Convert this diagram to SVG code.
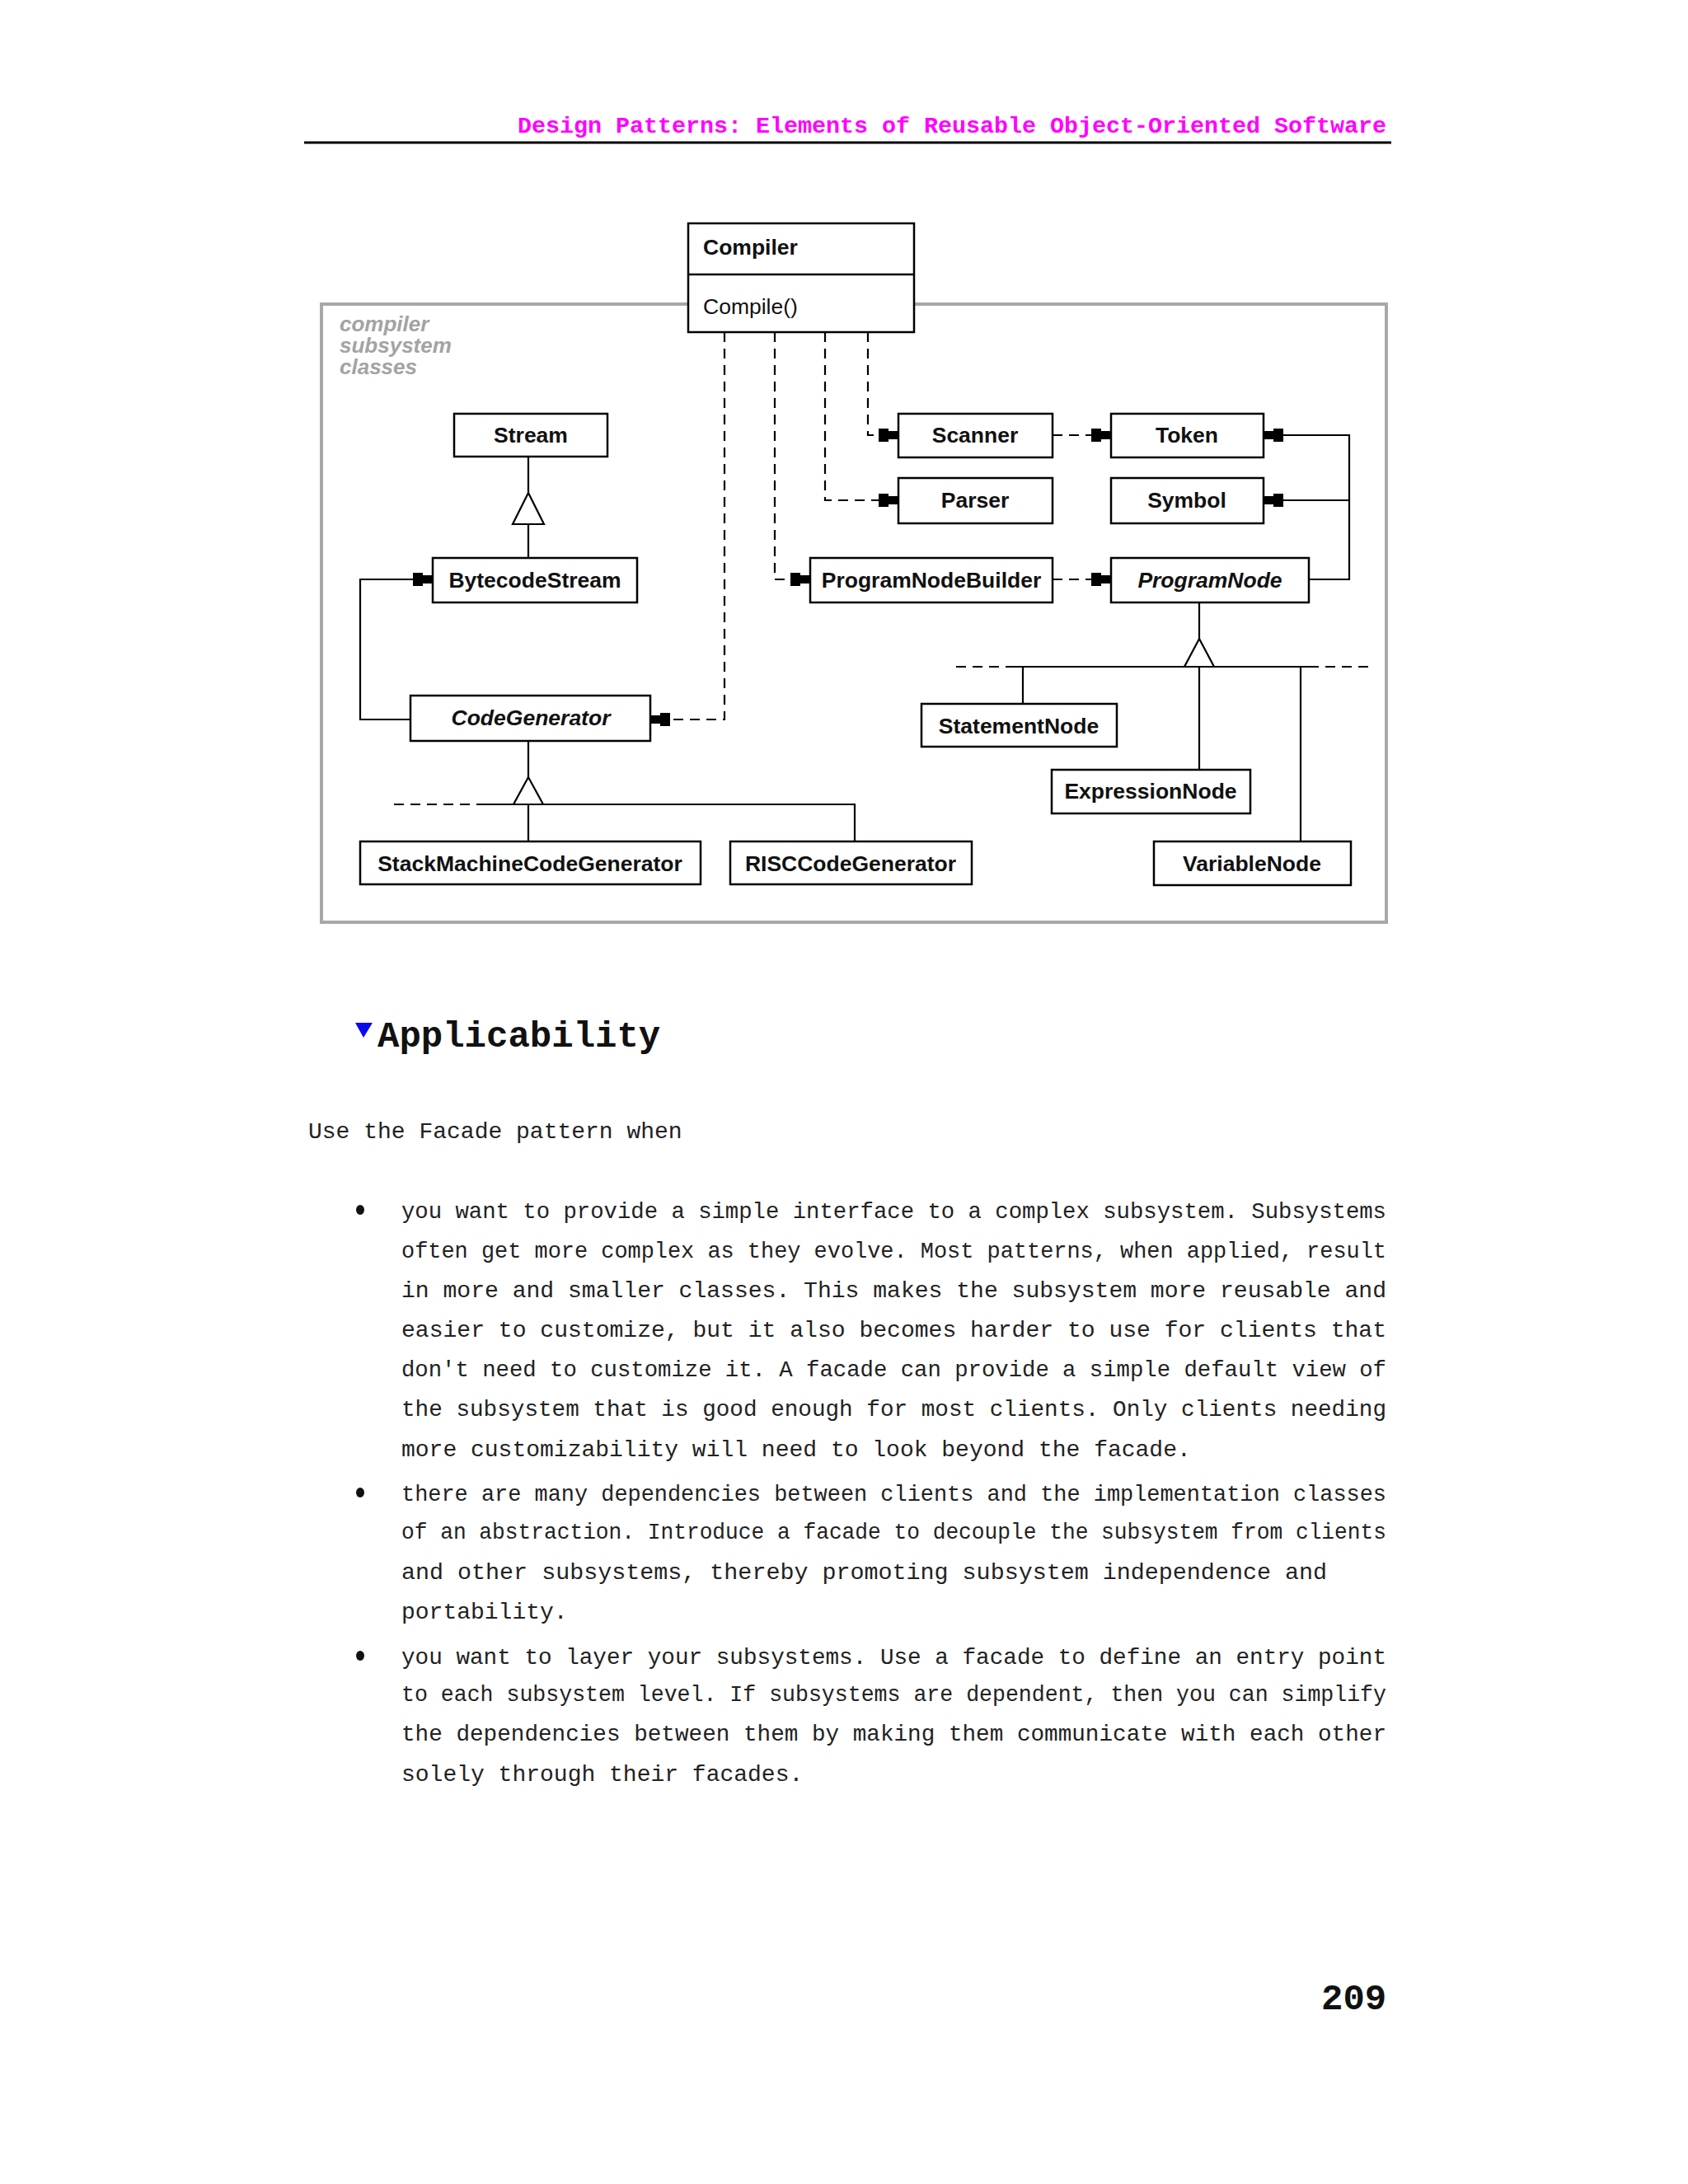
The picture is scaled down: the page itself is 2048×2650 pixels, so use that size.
<svg xmlns="http://www.w3.org/2000/svg" width="2048" height="2650" viewBox="0 0 2048 2650">
<style>
.box{fill:#fff;stroke:#000;stroke-width:2.5}
.cls{font-family:"Liberation Sans",Arial,sans-serif;font-size:26.5px;font-weight:bold;text-anchor:middle;fill:#111}
.abs{font-style:italic}
.ln{fill:none;stroke:#000;stroke-width:2.2}
.dash{stroke-dasharray:12 8}
.tri{fill:#fff;stroke:#000;stroke-width:2.2}
.body{font-family:"Liberation Mono","Courier New",monospace;font-size:28px;fill:#222}
.lbl{font-family:"Liberation Sans",Arial,sans-serif;font-size:26px;font-weight:bold;font-style:italic;fill:#a3a3a3}
</style>
<defs>
<marker id="ah" markerUnits="userSpaceOnUse" viewBox="0 -9 25 18" refX="24" refY="0" markerWidth="25" markerHeight="18" orient="auto">
<path d="M0,-8 H12 V-5 H24 V5 H12 V8 H0 Z" fill="#000"/>
</marker>
</defs>
<rect width="2048" height="2650" fill="#fff"/>
<g id="page-header">
<text x="628" y="161" font-family="'Liberation Mono','Courier New',monospace" font-size="28.4" font-weight="bold" fill="#ff00ff" textLength="1054" lengthAdjust="spacingAndGlyphs">Design Patterns: Elements of Reusable Object-Oriented Software</text>
<line x1="369" y1="173" x2="1688" y2="173" stroke="#000" stroke-width="3"/>
</g>
<g id="subsystem-frame">
<rect x="390" y="369" width="1292" height="750" fill="none" stroke="#a8a8a8" stroke-width="4"/>
<text class="lbl" x="412" y="402">compiler</text>
<text class="lbl" x="412" y="428">subsystem</text>
<text class="lbl" x="412" y="454">classes</text>
</g>
<g id="connectors">
<path class="ln dash" d="M879,403 V873 H789" marker-end="url(#ah)"/>
<path class="ln dash" d="M940,403 V703 H983" marker-end="url(#ah)"/>
<path class="ln dash" d="M1001,403 V607 H1090" marker-end="url(#ah)"/>
<path class="ln dash" d="M1053,403 V528 H1090" marker-end="url(#ah)"/>
<path class="ln dash" d="M1277,528 H1348" marker-end="url(#ah)"/>
<path class="ln dash" d="M1277,703 H1348" marker-end="url(#ah)"/>
<path class="ln" d="M1588,703 H1637 V528 H1533" marker-end="url(#ah)"/>
<path class="ln" d="M1637,607 H1533" marker-end="url(#ah)"/>
<path class="ln" d="M498,873 H437 V703 H525" marker-end="url(#ah)"/>
<path class="ln" d="M641,554 V598 M641,636 V677"/>
<polygon class="tri" points="641,598 660,636 622,636"/>
<path class="ln" d="M641,899 V943 M641,976 V1021 M587,976 H1037 V1021"/>
<path class="ln dash" d="M478,976 H587"/>
<polygon class="tri" points="641,943 659,976 623,976"/>
<path class="ln" d="M1455,731 V775 M1231,809 H1588 M1241,809 V854 M1455,809 V934 M1578,809 V1021"/>
<path class="ln dash" d="M1160,809 H1231 M1588,809 H1661"/>
<polygon class="tri" points="1455,775 1473,809 1437,809"/>
</g>
<g id="node-compiler">
<rect class="box" x="835" y="271" width="274" height="132"/>
<line x1="835" y1="333" x2="1109" y2="333" stroke="#000" stroke-width="2.5"/>
<text class="cls" x="853" y="309" style="text-anchor:start">Compiler</text>
<text x="853" y="381" font-family="'Liberation Sans',Arial,sans-serif" font-size="26.5" fill="#111">Compile()</text>
</g>
<g id="node-stream"><rect class="box" x="551" y="502" width="186" height="52"/><text class="cls" x="644" y="537">Stream</text></g>
<g id="node-bytecodestream"><rect class="box" x="525" y="677" width="248" height="54"/><text class="cls" x="649" y="713">BytecodeStream</text></g>
<g id="node-codegenerator"><rect class="box" x="498" y="844" width="291" height="55"/><text class="cls abs" x="644" y="880">CodeGenerator</text></g>
<g id="node-stackmachinecodegenerator"><rect class="box" x="437" y="1021" width="413" height="52"/><text class="cls" x="643" y="1057">StackMachineCodeGenerator</text></g>
<g id="node-risccodegenerator"><rect class="box" x="886" y="1021" width="293" height="52"/><text class="cls" x="1032" y="1057">RISCCodeGenerator</text></g>
<g id="node-scanner"><rect class="box" x="1090" y="502" width="187" height="53"/><text class="cls" x="1183" y="537">Scanner</text></g>
<g id="node-token"><rect class="box" x="1348" y="502" width="185" height="53"/><text class="cls" x="1440" y="537">Token</text></g>
<g id="node-parser"><rect class="box" x="1090" y="580" width="187" height="55"/><text class="cls" x="1183" y="616">Parser</text></g>
<g id="node-symbol"><rect class="box" x="1348" y="580" width="185" height="55"/><text class="cls" x="1440" y="616">Symbol</text></g>
<g id="node-programnodebuilder"><rect class="box" x="983" y="677" width="294" height="54"/><text class="cls" x="1130" y="713">ProgramNodeBuilder</text></g>
<g id="node-programnode"><rect class="box" x="1348" y="677" width="240" height="54"/><text class="cls abs" x="1468" y="713">ProgramNode</text></g>
<g id="node-statementnode"><rect class="box" x="1118" y="854" width="237" height="52"/><text class="cls" x="1236" y="890">StatementNode</text></g>
<g id="node-expressionnode"><rect class="box" x="1276" y="934" width="241" height="53"/><text class="cls" x="1396" y="969">ExpressionNode</text></g>
<g id="node-variablenode"><rect class="box" x="1400" y="1021" width="239" height="53"/><text class="cls" x="1519" y="1057">VariableNode</text></g>
<g id="applicability">
<polygon points="431,1241 452,1241 441,1259" fill="#0a0aee"/>
<text x="458" y="1270" font-family="'Liberation Mono','Courier New',monospace" font-size="44" font-weight="bold" fill="#111">Applicability</text>
<text class="body" x="374" y="1381">Use the Facade pattern when</text>
<ellipse cx="437" cy="1468" rx="5" ry="6" fill="#111"/>
<text class="body" x="487" y="1478" textLength="1195" lengthAdjust="spacingAndGlyphs">you want to provide a simple interface to a complex subsystem. Subsystems</text>
<text class="body" x="487" y="1526" textLength="1195" lengthAdjust="spacingAndGlyphs">often get more complex as they evolve. Most patterns, when applied, result</text>
<text class="body" x="487" y="1574" textLength="1195" lengthAdjust="spacingAndGlyphs">in more and smaller classes. This makes the subsystem more reusable and</text>
<text class="body" x="487" y="1622" textLength="1195" lengthAdjust="spacingAndGlyphs">easier to customize, but it also becomes harder to use for clients that</text>
<text class="body" x="487" y="1670" textLength="1195" lengthAdjust="spacingAndGlyphs">don't need to customize it. A facade can provide a simple default view of</text>
<text class="body" x="487" y="1718" textLength="1195" lengthAdjust="spacingAndGlyphs">the subsystem that is good enough for most clients. Only clients needing</text>
<text class="body" x="487" y="1767">more customizability will need to look beyond the facade.</text>
<ellipse cx="437" cy="1811" rx="5" ry="6" fill="#111"/>
<text class="body" x="487" y="1821" textLength="1195" lengthAdjust="spacingAndGlyphs">there are many dependencies between clients and the implementation classes</text>
<text class="body" x="487" y="1867" textLength="1195" lengthAdjust="spacingAndGlyphs">of an abstraction. Introduce a facade to decouple the subsystem from clients</text>
<text class="body" x="487" y="1916" textLength="1123" lengthAdjust="spacingAndGlyphs">and other subsystems, thereby promoting subsystem independence and</text>
<text class="body" x="487" y="1964">portability.</text>
<ellipse cx="437" cy="2009" rx="5" ry="6" fill="#111"/>
<text class="body" x="487" y="2019" textLength="1195" lengthAdjust="spacingAndGlyphs">you want to layer your subsystems. Use a facade to define an entry point</text>
<text class="body" x="487" y="2064" textLength="1195" lengthAdjust="spacingAndGlyphs">to each subsystem level. If subsystems are dependent, then you can simplify</text>
<text class="body" x="487" y="2112" textLength="1195" lengthAdjust="spacingAndGlyphs">the dependencies between them by making them communicate with each other</text>
<text class="body" x="487" y="2161">solely through their facades.</text>
</g>
<g id="page-number">
<text x="1603" y="2438" font-family="'Liberation Mono','Courier New',monospace" font-size="44" font-weight="bold" fill="#111">209</text>
</g>
</svg>
